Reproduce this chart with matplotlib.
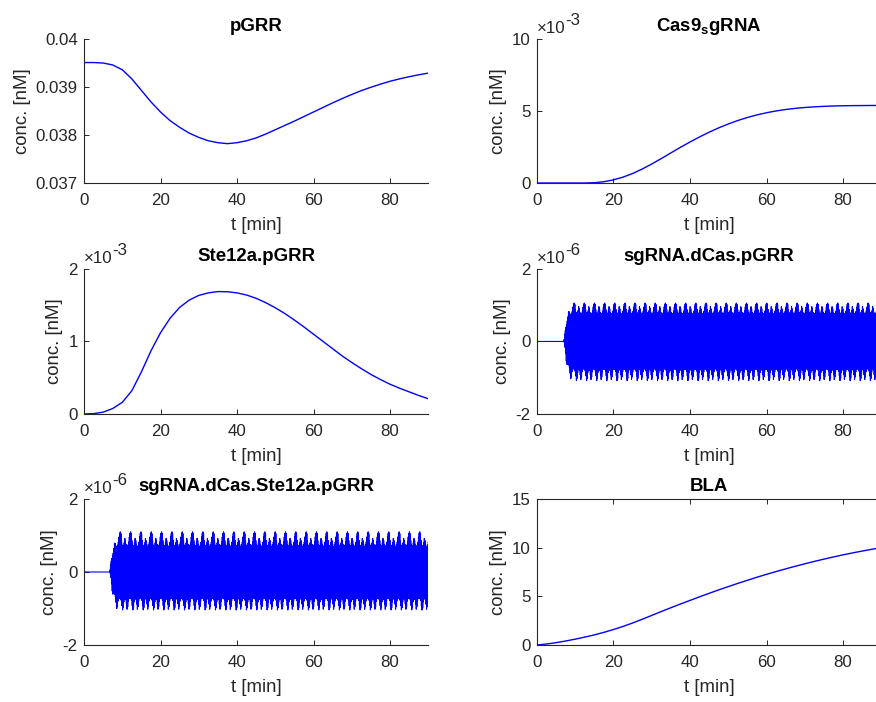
import numpy as np
import matplotlib
matplotlib.use("Agg")
import matplotlib.pyplot as plt
from matplotlib.ticker import FixedLocator, FuncFormatter
from matplotlib.transforms import offset_copy

plt.rcParams["font.family"] = ["Liberation Sans", "DejaVu Sans"]
plt.rcParams["mathtext.fontset"] = "custom"
plt.rcParams["mathtext.rm"] = "Liberation Sans"
plt.rcParams["mathtext.bf"] = "Liberation Sans:bold"
plt.rcParams["mathtext.it"] = "Liberation Sans:italic"

AX_GRAY = "#262626"
LINE_BLUE = "#0000ff"
TICK_FS = 12.2
LABEL_FS = 13.4

# sample times [min] for the smooth species
t_min = np.arange(0, 92.5, 2.5)

pgrr = [0.03951, 0.03951, 0.03950, 0.03946, 0.03936, 0.03917, 0.03893, 0.03869,
        0.03848, 0.03830, 0.03816, 0.03804, 0.03795, 0.03788, 0.03784, 0.03782,
        0.03784, 0.03788, 0.03794, 0.03802, 0.03811, 0.03820, 0.03829, 0.038385,
        0.03848, 0.038575, 0.03867, 0.03876, 0.038845, 0.038925, 0.038995, 0.03906,
        0.03912, 0.03917, 0.039215, 0.039255, 0.03929]

# x1e-3 nM
cas9_sgrna = [0.0, 0.0, 0.0, 0.0, 0.0, 0.0, 0.02, 0.09, 0.22, 0.41, 0.66, 0.97,
              1.32, 1.70, 2.09, 2.48, 2.85, 3.20, 3.53, 3.83, 4.10, 4.34, 4.55,
              4.73, 4.88, 5.005, 5.105, 5.185, 5.245, 5.29, 5.325, 5.35, 5.365,
              5.375, 5.38, 5.385, 5.385]

# x1e-3 nM
ste12a_pgrr = [0.0, 0.005, 0.025, 0.075, 0.16, 0.32, 0.58, 0.87, 1.12, 1.32, 1.47,
               1.57, 1.635, 1.67, 1.688, 1.685, 1.67, 1.64, 1.595, 1.535, 1.465,
               1.385, 1.295, 1.20, 1.10, 1.00, 0.90, 0.80, 0.71, 0.625, 0.545,
               0.475, 0.41, 0.355, 0.305, 0.255, 0.21]

bla = [0.0, 0.10, 0.24, 0.41, 0.60, 0.81, 1.04, 1.30, 1.59, 1.91, 2.26, 2.64,
       3.04, 3.44, 3.83, 4.21, 4.58, 4.95, 5.31, 5.66, 6.00, 6.33, 6.65, 6.96,
       7.26, 7.545, 7.82, 8.085, 8.34, 8.585, 8.82, 9.045, 9.26, 9.46, 9.65,
       9.83, 10.0]

# ringing complexes (x1e-6 nM): onset time, beat period, crest/trough per beat
osc_a_onset = 7.0
osc_a_period = 2.65
osc_a_upper = [1.06, 1.02, 0.88, 0.80, 0.76, 0.78, 0.85, 0.96,
               0.90, 0.80, 0.76, 0.75, 0.78, 0.84, 0.95, 1.03]
osc_a_lower = [-0.78, -0.82, -0.95, -1.08, -1.02, -0.86, -0.78, -0.76,
               -0.80, -0.92, -1.05, -0.98, -0.84, -0.77, -0.75, -0.76]

osc_b_onset = 6.7
osc_b_period = 2.7
osc_b_upper = [1.10, 1.05, 0.86, 0.74, 0.70, 0.72, 0.80, 0.92,
               0.86, 0.76, 0.70, 0.70, 0.74, 0.82, 0.96, 1.06]
osc_b_lower = [-0.74, -0.78, -0.92, -1.04, -0.98, -0.82, -0.74, -0.72,
               -0.76, -0.88, -1.02, -0.95, -0.80, -0.73, -0.71, -0.72]

onset_ramp = [0.05, 0.2, 0.35, 0.5, 0.62, 0.72, 0.8, 0.86, 0.91, 0.95, 0.98]


def ringing(onset, period, upper, lower, t_end=90.0):
    n_pairs = len(upper)
    dt = period / (2 * n_pairs)
    n_beats = int(np.ceil((t_end - onset) / period)) + 1
    up = np.tile(upper, n_beats).astype(float)
    lo = np.tile(lower, n_beats).astype(float)
    up[:len(onset_ramp)] *= onset_ramp
    lo[:len(onset_ramp)] *= onset_ramp
    vals = np.empty(2 * len(up))
    vals[0::2] = up
    vals[1::2] = lo
    t = onset + dt * (1 + np.arange(len(vals)))
    keep = t <= t_end
    # flat at zero until the onset
    t = np.concatenate([[0.0, onset], t[keep]])
    vals = np.concatenate([[0.0, 0.0], vals[keep]])
    return t, vals * 1e-6


def style_axes(ax, title, yticks, ylim, scale=None, exponent=None, box=False):
    ax.set_xlim(0, 90)
    ax.set_ylim(*ylim)
    ax.xaxis.set_major_locator(FixedLocator([0, 20, 40, 60, 80]))
    ax.yaxis.set_major_locator(FixedLocator(yticks))
    if scale is not None:
        ax.yaxis.set_major_formatter(FuncFormatter(lambda v, p: f"{v / scale:g}"))
    else:
        ax.yaxis.set_major_formatter(FuncFormatter(lambda v, p: f"{v:g}"))
    ax.tick_params(direction="in", length=3.5, width=0.7, colors=AX_GRAY,
                   labelsize=TICK_FS, top=box, right=box)
    ax.tick_params(axis="x", pad=7.5)
    ax.tick_params(axis="y", pad=4.5)
    for side, sp in ax.spines.items():
        sp.set_color(AX_GRAY)
        sp.set_linewidth(0.8)
        if side in ("top", "right"):
            sp.set_visible(box)
    ax.set_xlabel("t [min]", fontsize=LABEL_FS, color=AX_GRAY, labelpad=6.5)
    ax.set_ylabel("conc. [nM]", fontsize=LABEL_FS, color=AX_GRAY, labelpad=3.5)
    ax.set_title(title, fontsize=LABEL_FS, fontweight="bold", pad=6)
    if exponent is not None:
        fig = ax.figure
        ax.text(0.0, 1.0, "\u00d710", transform=offset_copy(
            ax.transAxes, fig=fig, x=0, y=4, units="points"),
            fontsize=TICK_FS, color=AX_GRAY, ha="left", va="baseline")
        ax.text(0.0, 1.0, exponent, transform=offset_copy(
            ax.transAxes, fig=fig, x=20.5, y=10, units="points"),
            fontsize=TICK_FS, color=AX_GRAY, ha="left", va="baseline")


fig = plt.figure(figsize=(8.76, 7.02), dpi=100)

left_x, right_x, width = 0.0959, 0.613, 0.393
rows = [(0.7393, 0.2051), (0.4103, 0.2066), (0.0812, 0.2080)]

ax1 = fig.add_axes([left_x, rows[0][0], width, rows[0][1]])
ax1.plot(t_min, pgrr, color=LINE_BLUE, lw=1.0)
style_axes(ax1, "pGRR", [0.037, 0.038, 0.039, 0.04], (0.037, 0.04))

ax2 = fig.add_axes([right_x, rows[0][0], width, rows[0][1]])
ax2.plot(t_min, np.array(cas9_sgrna) * 1e-3, color=LINE_BLUE, lw=1.0)
style_axes(ax2, r"Cas9$_\mathbf{s}$gRNA", [0, 5e-3, 10e-3], (0, 10e-3),
           scale=1e-3, exponent="-3")

ax3 = fig.add_axes([left_x, rows[1][0], width, rows[1][1]])
ax3.plot(t_min, np.array(ste12a_pgrr) * 1e-3, color=LINE_BLUE, lw=1.0)
style_axes(ax3, "Ste12a.pGRR", [0, 1e-3, 2e-3], (0, 2e-3),
           scale=1e-3, exponent="-3")

ax4 = fig.add_axes([right_x, rows[1][0], width, rows[1][1]])
t_a, y_a = ringing(osc_a_onset, osc_a_period, osc_a_upper, osc_a_lower)
ax4.plot(t_a, y_a, color=LINE_BLUE, lw=0.8)
style_axes(ax4, "sgRNA.dCas.pGRR", [-2e-6, 0, 2e-6], (-2e-6, 2e-6),
           scale=1e-6, exponent="-6")

ax5 = fig.add_axes([left_x, rows[2][0], width, rows[2][1]])
t_b, y_b = ringing(osc_b_onset, osc_b_period, osc_b_upper, osc_b_lower)
ax5.plot(t_b, y_b, color=LINE_BLUE, lw=0.8)
style_axes(ax5, "sgRNA.dCas.Ste12a.pGRR", [-2e-6, 0, 2e-6], (-2e-6, 2e-6),
           scale=1e-6, exponent="-6")

ax6 = fig.add_axes([right_x, rows[2][0], width, rows[2][1]])
ax6.plot(t_min, bla, color=LINE_BLUE, lw=1.0)
style_axes(ax6, "BLA", [0, 5, 10, 15], (0, 15), box=True)

fig.savefig("out.png", dpi=100)
plt.close(fig)
